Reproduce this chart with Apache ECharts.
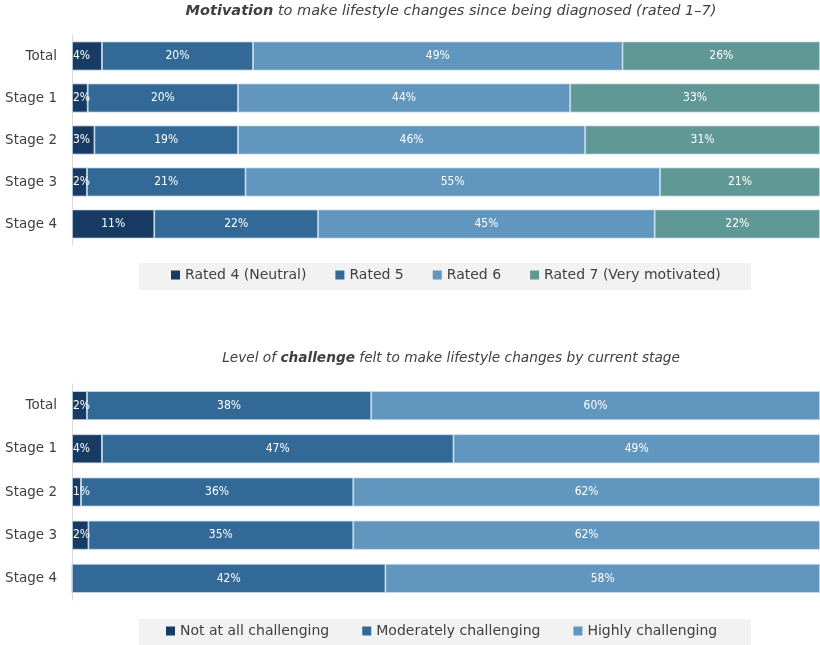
<!DOCTYPE html>
<html>
<head>
<meta charset="utf-8">
<script src="https://cdn.jsdelivr.net/npm/echarts@6/dist/echarts.min.js"></script>
<style>
html,body{margin:0;padding:0;background:#fff;}
#c{width:820px;height:645px;}
</style>
</head>
<body>
<div id="c"></div>
<script>
// ---- Data ----
var categories = ['Total', 'Stage 1', 'Stage 2', 'Stage 3', 'Stage 4'];

var motivationNames = ['Rated 4 (Neutral)', 'Rated 5', 'Rated 6', 'Rated 7 (Very motivated)'];
var rated4 = [4.0, 2.1, 3.0, 2.0, 11.0];
var rated5 = [20.2, 20.1, 19.2, 21.2, 21.9];
var rated6 = [49.4, 44.4, 46.4, 55.4, 45.0];
var rated7 = [26.4, 33.4, 31.4, 21.4, 22.1];

var challengeNames = ['Not at all challenging', 'Moderately challenging', 'Highly challenging'];
var notAtAll = [2.0, 4.0, 1.2, 2.2, 0];
var moderately = [38.0, 47.0, 36.4, 35.4, 41.9];
var highly = [60.0, 49.0, 62.4, 62.4, 58.1];

var colors = {
  navy: '#183b64',
  mid: '#326997',
  light: '#6196be',
  teal: '#5f9894'
};

var labelFont = "'Liberation Sans Narrow', 'DejaVu Sans Condensed', sans-serif";
var textFont = "'DejaVu Sans', sans-serif";

function barSeries(name, data, color, axisIdx) {
  return {
    name: name,
    type: 'bar',
    stack: 's' + axisIdx,
    xAxisIndex: axisIdx,
    yAxisIndex: axisIdx,
    data: data.map(function (v) {
      return v > 0 && v < 5
        ? { value: v, label: { position: 'insideLeft', distance: 1 } }
        : v;
    }),
    barWidth: 29,
    itemStyle: { color: color, borderColor: '#c7dbea', borderWidth: 0.8 },
    label: {
      show: true,
      position: 'inside',
      color: '#ffffff',
      fontFamily: labelFont,
      fontSize: 12,
      formatter: function (p) { return p.value > 0 ? Math.round(p.value) + '%' : ''; }
    },
    emphasis: { disabled: true },
    animation: false
  };
}

var series = [
  barSeries(motivationNames[0], rated4, colors.navy, 0),
  barSeries(motivationNames[1], rated5, colors.mid, 0),
  barSeries(motivationNames[2], rated6, colors.light, 0),
  barSeries(motivationNames[3], rated7, colors.teal, 0),
  barSeries(challengeNames[0], notAtAll, colors.navy, 1),
  barSeries(challengeNames[1], moderately, colors.mid, 1),
  barSeries(challengeNames[2], highly, colors.light, 1)
];

function yAx(idx) {
  return {
    type: 'category',
    gridIndex: idx,
    data: categories,
    inverse: true,
    axisLine: { show: true, lineStyle: { color: '#d9d9d9', width: 1 } },
    axisTick: { show: false },
    axisLabel: { color: '#404040', fontSize: 13.5, fontFamily: textFont, margin: 15 }
  };
}
function xAx(idx) {
  return {
    type: 'value', gridIndex: idx, min: 0, max: 100, show: false,
    splitLine: { show: false }
  };
}

function titleStyle(size) {
  return {
    fontFamily: textFont,
    fontStyle: 'italic',
    fontWeight: 'normal',
    fontSize: size,
    color: '#404040',
    rich: {
      b: { fontFamily: textFont, fontStyle: 'italic', fontWeight: 'bold', fontSize: size, color: '#404040' },
      n: { fontFamily: textFont, fontStyle: 'italic', fontWeight: 'normal', fontSize: size, color: '#404040' }
    }
  };
}

var legendText = { color: '#404040', fontSize: 14, fontFamily: textFont };

var chart = echarts.init(document.getElementById('c'), null, { renderer: 'canvas' });
chart.setOption({
  animation: false,
  title: [
    { text: '{b|Motivation}{n| to make lifestyle changes since being diagnosed (rated 1–7)}',
      left: 446, top: -1, textAlign: 'center', textStyle: titleStyle(14.5) },
    { text: '{n|Level of }{b|challenge}{n| felt to make lifestyle changes by current stage}',
      left: 446, top: 346, textAlign: 'center', textStyle: titleStyle(13.7) }
  ],
  graphic: [
    { type: 'rect', shape: { x: 139, y: 263, width: 612, height: 27 }, style: { fill: '#f2f2f2' }, silent: true, z: -10 },
    { type: 'rect', shape: { x: 139, y: 619, width: 612, height: 26 }, style: { fill: '#f2f2f2' }, silent: true, z: -10 }
  ],
  legend: [
    { data: motivationNames, left: 171, top: 268, padding: 0, itemWidth: 9, itemHeight: 9, itemGap: 29, icon: 'rect',
      itemStyle: { borderWidth: 0 }, textStyle: legendText, selectedMode: false },
    { data: challengeNames, left: 166, top: 624, padding: 0, itemWidth: 9, itemHeight: 9, itemGap: 33, icon: 'rect',
      itemStyle: { borderWidth: 0 }, textStyle: legendText, selectedMode: false }
  ],
  grid: [
    { left: 72, right: 0, top: 35, height: 210 },
    { left: 72, right: 0, top: 384, height: 216 }
  ],
  xAxis: [xAx(0), xAx(1)],
  yAxis: [yAx(0), yAx(1)],
  series: series
});
</script>
</body>
</html>
